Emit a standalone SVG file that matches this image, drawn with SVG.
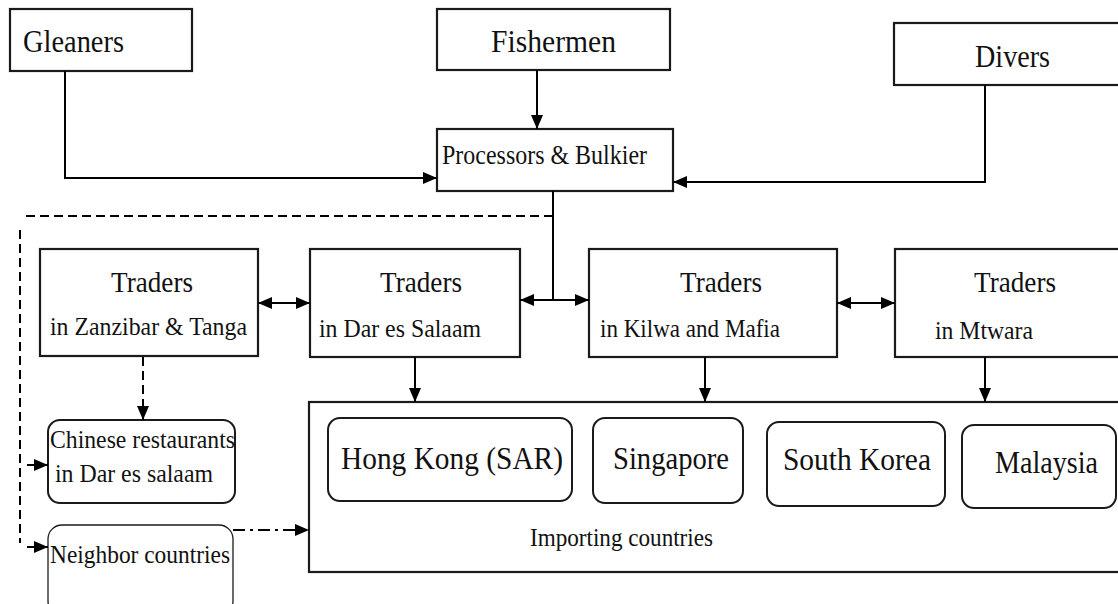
<svg xmlns="http://www.w3.org/2000/svg" width="1118" height="604" viewBox="0 0 1118 604">
<defs>
<marker id="ah" viewBox="0 0 14 12" refX="14" refY="6" markerWidth="14" markerHeight="12" markerUnits="userSpaceOnUse" orient="auto-start-reverse">
<path d="M0,0 L14,6 L0,12 z" fill="#000"/>
</marker>
<style>
.box{fill:#fff;stroke:#1a1a1a;stroke-width:2.2}
.rbox{fill:#fff;stroke:#1a1a1a;stroke-width:2}
.t{font-family:"Liberation Serif","Times New Roman",serif;fill:#111}
.c{fill:none;stroke:#000;stroke-width:2}
.dash{stroke-dasharray:9,5}
.dd{stroke-dasharray:12,5,3,5}
</style>
</defs>
<rect width="1118" height="604" fill="#fff"/>

<g id="gleaners"><rect class="box" x="10" y="9" width="182" height="62"/><text class="t" x="23" y="52" font-size="32" textLength="101" lengthAdjust="spacingAndGlyphs">Gleaners</text></g>
<g id="fishermen"><rect class="box" x="437" y="9" width="233" height="61"/><text class="t" x="491" y="52" font-size="32" textLength="125" lengthAdjust="spacingAndGlyphs">Fishermen</text></g>
<g id="divers"><rect class="box" x="894" y="23" width="240" height="62"/><text class="t" x="975" y="67" font-size="32" textLength="75" lengthAdjust="spacingAndGlyphs">Divers</text></g>
<g id="processors"><rect class="box" x="437" y="129" width="236" height="62"/><text class="t" x="442" y="164" font-size="28" textLength="205" lengthAdjust="spacingAndGlyphs">Processors &amp; Bulkier</text></g>

<g id="traders-zanzibar"><rect class="box" x="40" y="249" width="218" height="107"/><text class="t" x="111" y="292" font-size="30" textLength="82" lengthAdjust="spacingAndGlyphs">Traders</text><text class="t" x="50" y="335" font-size="26" textLength="197" lengthAdjust="spacingAndGlyphs">in Zanzibar &amp; Tanga</text></g>
<g id="traders-dar"><rect class="box" x="310" y="249" width="210" height="108"/><text class="t" x="380" y="292" font-size="30" textLength="82" lengthAdjust="spacingAndGlyphs">Traders</text><text class="t" x="319" y="337" font-size="26" textLength="162" lengthAdjust="spacingAndGlyphs">in Dar es Salaam</text></g>
<g id="traders-kilwa"><rect class="box" x="589" y="249" width="248" height="108"/><text class="t" x="680" y="292" font-size="30" textLength="82" lengthAdjust="spacingAndGlyphs">Traders</text><text class="t" x="600" y="337" font-size="26" textLength="180" lengthAdjust="spacingAndGlyphs">in Kilwa and Mafia</text></g>
<g id="traders-mtwara"><rect class="box" x="895" y="249" width="240" height="108"/><text class="t" x="974" y="292" font-size="30" textLength="82" lengthAdjust="spacingAndGlyphs">Traders</text><text class="t" x="935" y="339" font-size="26" textLength="98" lengthAdjust="spacingAndGlyphs">in Mtwara</text></g>

<g id="importing"><rect class="box" x="309" y="402" width="830" height="170"/><text class="t" x="530" y="546" font-size="26" textLength="183" lengthAdjust="spacingAndGlyphs">Importing countries</text></g>
<g id="hongkong"><rect class="rbox" x="328" y="418" width="244" height="83" rx="12"/><text class="t" x="341" y="469" font-size="32" textLength="222" lengthAdjust="spacingAndGlyphs">Hong Kong (SAR)</text></g>
<g id="singapore"><rect class="rbox" x="593" y="418" width="150" height="85" rx="12"/><text class="t" x="613" y="469" font-size="32" textLength="116" lengthAdjust="spacingAndGlyphs">Singapore</text></g>
<g id="southkorea"><rect class="rbox" x="767" y="422" width="178" height="84" rx="12"/><text class="t" x="783" y="470" font-size="32" textLength="148" lengthAdjust="spacingAndGlyphs">South Korea</text></g>
<g id="malaysia"><rect class="rbox" x="962" y="425" width="154" height="83" rx="12"/><text class="t" x="995" y="473" font-size="32" textLength="103" lengthAdjust="spacingAndGlyphs">Malaysia</text></g>

<g id="chinese-restaurants"><rect class="rbox" x="48" y="420" width="187" height="83" rx="12"/><text class="t" x="50" y="448" font-size="26" textLength="185" lengthAdjust="spacingAndGlyphs">Chinese restaurants</text><text class="t" x="55" y="482" font-size="26" textLength="158" lengthAdjust="spacingAndGlyphs">in Dar es salaam</text></g>
<g id="neighbor"><rect fill="#fff" stroke="#1a1a1a" stroke-width="1.3" x="48" y="525" width="185" height="90" rx="14"/><text class="t" x="50" y="563" font-size="26" textLength="180" lengthAdjust="spacingAndGlyphs">Neighbor countries</text></g>

<g id="connectors">
<path class="c" d="M65,71 V178 H437" marker-end="url(#ah)"/>
<path class="c" d="M537,70 V129" marker-end="url(#ah)"/>
<path class="c" d="M985,85 V182 H673" marker-end="url(#ah)"/>
<path class="c" d="M553,191 V300"/>
<path class="c" d="M520,300 H589" marker-start="url(#ah)" marker-end="url(#ah)"/>
<path class="c dash" d="M553,216 H24"/>
<path class="c dash" d="M20,230 V543"/>
<path class="c" d="M27,465 H48" marker-end="url(#ah)"/>
<path class="c" d="M27,547 H48" marker-end="url(#ah)"/>
<path class="c" d="M258,303 H310" marker-start="url(#ah)" marker-end="url(#ah)"/>
<path class="c" d="M837,303 H895" marker-start="url(#ah)" marker-end="url(#ah)"/>
<path class="c" d="M415,357 V402" marker-end="url(#ah)"/>
<path class="c" d="M705,357 V402" marker-end="url(#ah)"/>
<path class="c" d="M985,357 V402" marker-end="url(#ah)"/>
<path class="c dash" d="M143,357 V420" marker-end="url(#ah)"/>
<path class="c dd" d="M233,530 H309" marker-end="url(#ah)"/>
</g>
</svg>
